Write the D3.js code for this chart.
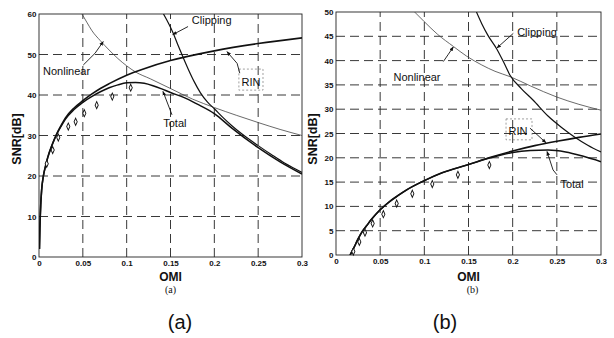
<!DOCTYPE html>
<html>
<head>
<meta charset="utf-8">
<script src="https://cdn.jsdelivr.net/npm/d3@7"></script>
<style>
body { margin: 0; background: #fff; }
text { font-family: "Liberation Sans", Arial, sans-serif; fill: #111; }
</style>
</head>
<body>
<svg id="fig" width="614" height="338"></svg>
<script>
// shared x ticks (OMI)
var xTicks = [0, 0.05, 0.1, 0.15, 0.2, 0.25, 0.3];
var xTickLabels = ["0", "0.05", "0.1", "0.15", "0.2", "0.25", "0.3"];

// panel (a)
var yTicksA = [0, 10, 20, 30, 40, 50, 60];
var rinA = [[0.0005, 2], [0.001, 7], [0.002, 13], [0.003, 16.5], [0.005, 20], [0.0075, 22.5],
    [0.01, 24.6], [0.015, 27.7], [0.02, 30.3], [0.025, 32.4], [0.03, 34.3], [0.04, 36.8],
    [0.05, 38.6], [0.06, 40.2], [0.07, 41.6], [0.08, 42.8], [0.1, 44.9], [0.12, 46.5],
    [0.15, 48.5], [0.2, 50.9], [0.25, 52.7], [0.3, 54.1]];
var totalA = [[0.0005, 2], [0.001, 7], [0.002, 13], [0.003, 16.5], [0.005, 20], [0.0075, 22.5],
    [0.01, 24.6], [0.015, 27.7], [0.02, 30.2], [0.025, 32.2], [0.03, 34], [0.04, 36.4],
    [0.05, 38.2], [0.06, 39.6], [0.07, 40.8], [0.08, 41.8], [0.09, 42.5], [0.1, 43],
    [0.11, 43.1], [0.12, 42.9], [0.13, 42.3], [0.14, 41.5], [0.15, 40.6], [0.165, 39.4],
    [0.18, 37.8], [0.2, 35.4], [0.22, 31.8], [0.25, 27], [0.275, 23.5], [0.3, 20.5]];
var nonlinA = [[0.049, 60], [0.055, 57.8], [0.06, 56], [0.07, 53.4], [0.08, 51.1], [0.09, 49],
    [0.1, 47.2], [0.11, 45.7], [0.127, 44], [0.15, 41.6], [0.175, 39], [0.2, 36.9],
    [0.225, 35], [0.25, 33.2], [0.275, 31.5], [0.3, 30]];
var clipA = [[0.142, 60], [0.148, 57.6], [0.153, 55.3], [0.158, 52.6], [0.164, 49.5],
    [0.17, 46.5], [0.177, 43.3], [0.184, 40.6], [0.192, 38.3], [0.2, 36.6], [0.21, 34.4],
    [0.22, 32.4], [0.235, 29.8], [0.25, 27.5], [0.265, 25.3], [0.28, 23.2], [0.3, 20.9]];
var measA = [[0.0088, 23], [0.0156, 26.4], [0.022, 29.5], [0.0334, 32.2], [0.0418, 33.4],
    [0.0517, 35.5], [0.0658, 37.5], [0.0836, 39.6], [0.1046, 41.8]];

// panel (b)
var yTicksB = [0, 5, 10, 15, 20, 25, 30, 35, 40, 45, 50];
var rinB = [[0.016, 0], [0.02, 1.4], [0.025, 3.3], [0.03, 4.9], [0.035, 6.1], [0.04, 7.3],
    [0.05, 9.3], [0.06, 10.9], [0.07, 12.2], [0.08, 13.4], [0.1, 15.3], [0.12, 16.9],
    [0.15, 18.6], [0.175, 20.1], [0.2, 21.4], [0.225, 22.5], [0.25, 23.4], [0.275, 24.2],
    [0.3, 24.9]];
var totalB = [[0.016, 0], [0.02, 1.4], [0.025, 3.3], [0.03, 4.9], [0.035, 6.1], [0.04, 7.3],
    [0.05, 9.3], [0.06, 10.9], [0.07, 12.2], [0.08, 13.4], [0.1, 15.3], [0.12, 16.9],
    [0.15, 18.6], [0.175, 20.0], [0.2, 21.1], [0.22, 21.5], [0.24, 21.6], [0.26, 21.2],
    [0.28, 20.3], [0.3, 19.2]];
var nonlinB = [[0.089, 50], [0.1, 48], [0.115, 45.4], [0.133, 42.9], [0.148, 40.9],
    [0.165, 39.1], [0.18, 37.8], [0.197, 36.7], [0.22, 34.8], [0.25, 32.5], [0.275, 31],
    [0.3, 29.8]];
var clipB = [[0.159, 50], [0.165, 47.6], [0.172, 45.2], [0.182, 42.4], [0.19, 39.6],
    [0.197, 37], [0.21, 34.2], [0.223, 31.9], [0.24, 28.6], [0.255, 26.3], [0.27, 24.3],
    [0.285, 22.6], [0.3, 21.2]];
var measB = [[0.0196, 0.7], [0.0264, 2.7], [0.0328, 4.6], [0.0415, 6.5], [0.0536, 8.4],
    [0.0687, 10.6], [0.0864, 12.6], [0.109, 14.6], [0.138, 16.5], [0.1736, 18.5]];

var svg = d3.select("#fig");

svg.append("defs").append("marker")
    .attr("id", "arr")
    .attr("viewBox", "0 0 10 10")
    .attr("refX", 9).attr("refY", 5)
    .attr("markerWidth", 5).attr("markerHeight", 5)
    .attr("orient", "auto")
  .append("path")
    .attr("d", "M0,1L10,5L0,9Z")
    .attr("fill", "#111");

function panel(id, o) {
    var x = d3.scaleLinear().domain([0, 0.3]).range(o.xr);
    var y = d3.scaleLinear().domain(o.yd).range(o.yr);
    var g = svg.append("g");

    g.append("clipPath").attr("id", "clip" + id)
      .append("rect")
        .attr("x", o.xr[0]).attr("y", o.yr[1])
        .attr("width", o.xr[1] - o.xr[0]).attr("height", o.yr[0] - o.yr[1]);

    // dashed grid
    g.selectAll(".gx").data(xTicks.slice(1, -1)).enter().append("line")
        .attr("x1", x).attr("x2", x)
        .attr("y1", o.yr[0]).attr("y2", o.yr[1])
        .attr("stroke", "#222").attr("stroke-width", 0.9)
        .attr("stroke-dasharray", "9,5");
    g.selectAll(".gy").data(o.yt.slice(1, -1)).enter().append("line")
        .attr("y1", y).attr("y2", y)
        .attr("x1", o.xr[0]).attr("x2", o.xr[1])
        .attr("stroke", "#222").attr("stroke-width", 0.9)
        .attr("stroke-dasharray", "9,5");

    // frame
    g.append("rect")
        .attr("x", o.xr[0]).attr("y", o.yr[1])
        .attr("width", o.xr[1] - o.xr[0]).attr("height", o.yr[0] - o.yr[1])
        .attr("fill", "none").attr("stroke", "#222").attr("stroke-width", 0.9);

    var xa = g.append("g")
        .attr("transform", "translate(0," + o.yr[0] + ")")
        .call(d3.axisBottom(x).tickValues(xTicks).tickSize(0).tickPadding(3.5)
            .tickFormat(function(d, i) { return xTickLabels[i]; }));
    var ya = g.append("g")
        .attr("transform", "translate(" + o.xr[0] + ",0)")
        .call(d3.axisLeft(y).tickValues(o.yt).tickSize(0).tickPadding(2.5));
    [xa, ya].forEach(function(a) {
        a.select(".domain").remove();
        a.selectAll("text")
            .style("font-family", "'Liberation Sans', Arial, sans-serif")
            .style("font-size", "8px").style("font-weight", "bold").attr("fill", "#111");
    });

    var line = d3.line()
        .x(function(d) { return x(d[0]); })
        .y(function(d) { return y(d[1]); })
        .curve(d3.curveMonotoneX);

    var curves = g.append("g").attr("clip-path", "url(#clip" + id + ")");
    curves.append("path").datum(o.nonlin).attr("d", line)
        .attr("fill", "none").attr("stroke", "#444").attr("stroke-width", 0.8);
    curves.append("path").datum(o.clip).attr("d", line)
        .attr("fill", "none").attr("stroke", "#111").attr("stroke-width", 1.2);
    curves.append("path").datum(o.rin).attr("d", line)
        .attr("fill", "none").attr("stroke", "#111").attr("stroke-width", 1.6);
    curves.append("path").datum(o.total).attr("d", line)
        .attr("fill", "none").attr("stroke", "#111").attr("stroke-width", 1.5);

    var diamond = d3.symbol(d3.symbolDiamond, 12);
    g.selectAll(".m").data(o.meas).enter().append("path")
        .attr("d", diamond)
        .attr("transform", function(d) {
            return "translate(" + x(d[0]) + "," + y(d[1]) + ") scale(0.85,1.1)";
        })
        .attr("fill", "#fff").attr("stroke", "#111").attr("stroke-width", 1);

    // curve names with leader lines
    o.notes.forEach(function(n) {
        g.append("text")
            .attr("x", x(n.at[0])).attr("y", y(n.at[1]))
            .attr("text-anchor", n.anchor || "middle")
            .style("font-size", "11px")
            .text(n.name);
        if (n.box) {
            g.append("rect")
                .attr("x", x(n.box[0])).attr("y", y(n.box[1]))
                .attr("width", x(n.box[2]) - x(n.box[0]))
                .attr("height", y(n.box[3]) - y(n.box[1]))
                .attr("fill", "none").attr("stroke", "#777")
                .attr("stroke-width", 0.7).attr("stroke-dasharray", "2,2");
        }
        g.append("path")
            .attr("d", d3.line()
                .x(function(d) { return x(d[0]); })
                .y(function(d) { return y(d[1]); })(n.lead))
            .attr("fill", "none").attr("stroke", "#111").attr("stroke-width", 0.9)
            .attr("marker-end", "url(#arr)");
    });

    // axis titles
    g.append("text")
        .attr("x", x(0.15)).attr("y", 281)
        .attr("text-anchor", "middle")
        .style("font-size", "12px").style("font-weight", "bold")
        .text("OMI");
    g.append("text")
        .attr("transform", "translate(" + o.ylab + ",139) rotate(-90)")
        .attr("text-anchor", "middle")
        .style("font-size", "12.5px").style("font-weight", "bold")
        .text("SNR[dB]");
    g.append("text")
        .attr("x", x(0.15) + o.subdx).attr("y", 293)
        .attr("text-anchor", "middle")
        .style("font-family", "'Liberation Serif', 'DejaVu Serif', serif")
        .style("font-size", "10px")
        .text(o.sub);
    g.append("text")
        .attr("x", o.bigx).attr("y", 329)
        .attr("text-anchor", "middle")
        .style("font-size", "20px")
        .text(o.sub);
}

panel("a", {
    xr: [39, 302], yd: [0, 60], yr: [257, 14], yt: yTicksA,
    rin: rinA, total: totalA, nonlin: nonlinA, clip: clipA, meas: measA,
    ylab: 20.5, sub: "(a)", subdx: 0, bigx: 180,
    notes: [
        { name: "Clipping", at: [0.197, 57.5], lead: [[0.170, 56.9], [0.1525, 54.9]] },
        { name: "Nonlinear", at: [0.0046, 44.9], anchor: "start",
          lead: [[0.0505, 47.4], [0.0639, 50.3], [0.0733, 53.2]] },
        { name: "RIN", at: [0.2418, 42.2], box: [0.228, 46.4, 0.2555, 41.2],
          lead: [[0.229, 45.4], [0.226, 47.8], [0.2144, 50.7]] },
        { name: "Total", at: [0.155, 32.1], lead: [[0.1517, 35.1], [0.1414, 40.9]] }
    ]
});

panel("b", {
    xr: [336, 601], yd: [0, 50], yr: [255, 12], yt: yTicksB,
    rin: rinB, total: totalB, nonlin: nonlinB, clip: clipB, meas: measB,
    ylab: 316.5, sub: "(b)", subdx: 4, bigx: 445,
    notes: [
        { name: "Clipping", at: [0.2276, 45.1], lead: [[0.2007, 45.6], [0.1822, 42.6]] },
        { name: "Nonlinear", at: [0.0917, 35.8],
          lead: [[0.1215, 39.8], [0.1268, 41.2], [0.1328, 42.8]] },
        { name: "RIN", at: [0.206, 24.7], box: [0.1925, 28, 0.2219, 23.7],
          lead: [[0.2196, 26.1], [0.2377, 23.1]] },
        { name: "Total", at: [0.2672, 13.8],
          lead: [[0.2502, 16.5], [0.2457, 17.5], [0.2389, 21.3]] }
    ]
});
</script>
</body>
</html>
